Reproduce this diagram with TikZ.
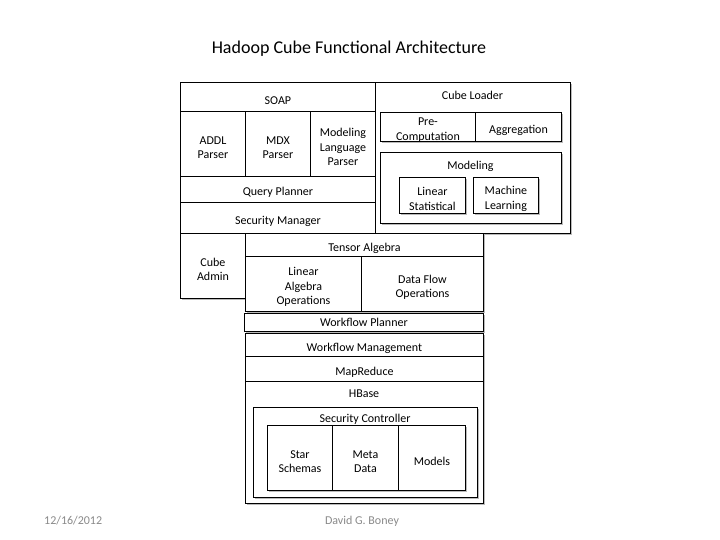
\documentclass[tikz,border=0pt]{standalone}
\usepackage{fontspec}
\setmainfont{Carlito}
\usetikzlibrary{shadows}
\definecolor{footgray}{RGB}{137,137,137}
\begin{document}
\begin{tikzpicture}[x=1pt, y=-1pt,
        blk/.style={draw=black, fill=white, line width=0.9pt, inner sep=0pt,
            anchor=north west, align=center,
            font=\fontsize{12}{14.5}\selectfont,
            execute at begin node={\rule{0pt}{15pt}},
            drop shadow={shadow xshift=1.3pt, shadow yshift=-1.3pt, fill=black!45, opacity=.6}},
        lift/.style={execute at begin node={\rule{0pt}{#1}}},
        twoline/.style={lift=29.5pt},
        threeline/.style={lift=44pt},
        txt/.style={inner sep=0pt, align=center, font=\fontsize{12}{14.5}\selectfont},
        foot/.style={inner sep=0pt, text=footgray, font=\fontsize{12}{14}\selectfont},
        ]
        \useasboundingbox (0,0) rectangle (720,540);

        % Title
        \node[inner sep=0pt, font=\fontsize{18}{22}\selectfont] (title) at (349,49) {Hadoop Cube Functional Architecture};

        % Query side
        \node[blk, minimum width=195pt, minimum height=29pt] (soap) at (180,82) {SOAP};
        \node[blk, twoline, minimum width=65pt, minimum height=65pt] (addl) at (180,111) {ADDL\\Parser};
        \node[blk, twoline, minimum width=65pt, minimum height=65pt] (mdx) at (245,111) {MDX\\Parser};
        \node[blk, threeline, minimum width=65pt, minimum height=65pt] (mlp) at (310,111) {Modeling\\Language\\Parser};
        \node[blk, minimum width=195pt, minimum height=26pt] (qplan) at (180,176) {Query Planner};
        \node[blk, minimum width=195pt, minimum height=31pt] (secman) at (180,202) {Security Manager};

        % Cube Loader
        \node[blk, minimum width=195pt, minimum height=151pt] (loader) at (375,82) {};
        \node[txt] (loadert) at (472.5,95.5) {Cube Loader};
        \node[blk, lift=27pt, text depth=0pt, minimum width=95pt, minimum height=29pt] (precomp) at (380,112) {Pre-\\Computation};
        \node[blk, minimum width=86pt, minimum height=29pt] (aggr) at (475,112) {Aggregation};
        \node[blk, minimum width=181pt, minimum height=71pt] (model) at (380,152) {};
        \node[txt] (modelt) at (470.5,166.5) {Modeling};
        \node[blk, twoline, minimum width=66pt, minimum height=36pt] (linstat) at (399,177) {Linear\\Statistical};
        \node[blk, twoline, minimum width=65pt, minimum height=36pt] (mlearn) at (473,177) {Machine\\Learning};

        % Cube Admin
        \node[blk, twoline, minimum width=65pt, minimum height=65pt] (admin) at (180,233) {Cube\\Admin};

        % Tensor Algebra
        \node[blk, minimum width=238pt, minimum height=23pt] (tensor) at (245,233) {Tensor Algebra};
        \node[blk, threeline, minimum width=116pt, minimum height=55pt] (linalg) at (245,256) {Linear\\Algebra\\Operations};
        \node[blk, twoline, minimum width=122pt, minimum height=55pt] (dflow) at (361,256) {Data Flow\\Operations};

        % Workflow
        \node[blk, text depth=6pt, inner ysep=-1.5pt, minimum width=239pt, minimum height=18pt] (wfplan) at (244,313) {Workflow Planner};
        \node[blk, minimum width=238pt, minimum height=23pt] (wfman) at (245,333) {Workflow Management};
        \node[blk, minimum width=238pt, minimum height=25pt] (mapred) at (245,356) {MapReduce};

        % HBase
        \node[blk, minimum width=238pt, minimum height=122pt] (hbase) at (245,381) {};
        \node[txt] (hbaset) at (364,393.5) {HBase};
        \node[blk, minimum width=224pt, minimum height=90pt] (secctl) at (253,407) {};
        \node[txt] (secctlt) at (365,419.5) {Security Controller};
        \node[blk, twoline, minimum width=65pt, minimum height=65pt] (star) at (267,425) {Star\\Schemas};
        \node[blk, twoline, minimum width=66pt, minimum height=65pt] (meta) at (332,425) {Meta\\Data};
        \node[blk, minimum width=67pt, minimum height=65pt] (models) at (398,425) {Models};

        % Footer
        \node[foot, anchor=west] (date) at (44,521) {12/16/2012};
        \node[foot] (author) at (362,521) {David G. Boney};
\end{tikzpicture}
\end{document}
